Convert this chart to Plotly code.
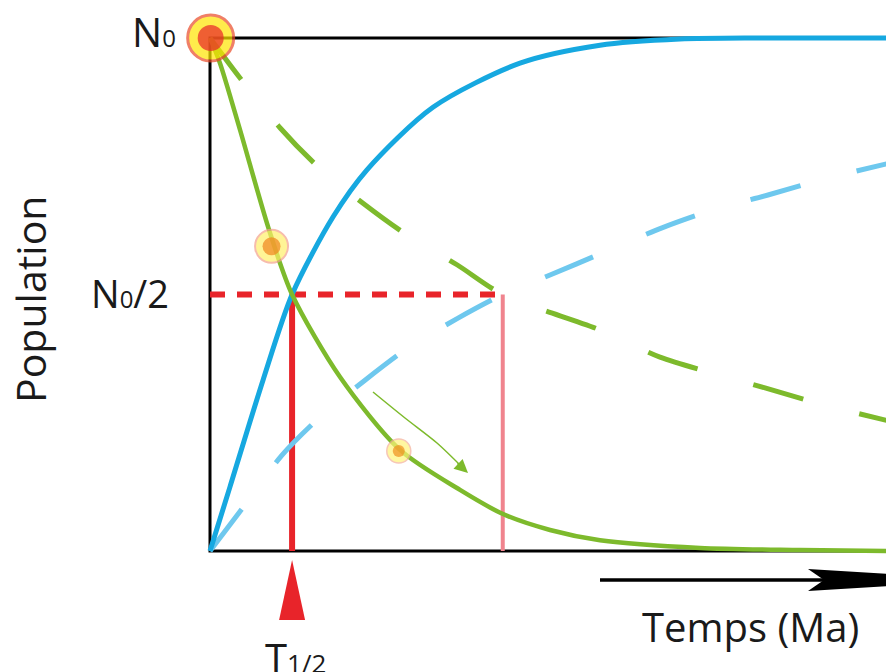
import plotly.graph_objects as go

# ---------------- data (time in Ma, population in % of N0) ----------------
T_HALF_SHORT = 1.2
T_HALF_LONG = 4.28

parent_fast_t = [0, 0.146, 0.439, 0.863, 1.2, 1.901, 2.778, 3.655, 4.284, 4.971, 5.702, 7.164, 8.626, 10]
parent_fast_n = [100, 95.1, 82.1, 62.6, 50, 33.9, 19.7, 11.9, 7.2, 4.1, 2.1, 0.6, 0.2, 0]

daughter_fast_t = [0, 0.292, 0.775, 1.2, 1.798, 2.295, 3.26, 4.532, 5.702, 6.871, 8.04, 10]
daughter_fast_n = [0, 12.5, 33.3, 50, 65.1, 74.3, 86.5, 95.1, 98.6, 99.8, 100, 100]

parent_slow_t = [0, 0.439, 1.023, 1.579, 2.237, 2.88, 3.611, 4.28, 5.702, 6.579, 7.339, 8.114, 8.889, 10]
parent_slow_n = [100, 92.2, 82.5, 74.9, 67.8, 61.6, 55.8, 50, 43.1, 37.8, 34.7, 31.8, 28.8, 25.1]

daughter_slow_t = [0, 0.512, 1.053, 1.608, 2.266, 2.895, 3.626, 4.28, 4.971, 5.702, 6.608, 7.354, 8.158, 8.918, 10]
daughter_slow_n = [0, 9.0, 18.7, 26.1, 33.3, 39.6, 45.4, 50, 53.8, 57.9, 63.0, 66.5, 69.4, 72.3, 75.8]

atom_t = [0.01, 0.9, 2.76]
atom_n = [100, 59.4, 19.5]

# ---------------- styling ----------------
GREEN = "#7dba2c"
BLUE = "#16a8e0"
LBLUE = "#6ec8ee"
RED = "#e8242a"
PINK = "#f0848e"
FONT = "Open Sans"
OFF = 8  # page body margin in the browser

# pixel helpers for figure geometry (picture 210..894 px -> 0..10 Ma, 551..38 px -> 0..100 %)
PXX = 68.4
PXY = 5.13
def X(px):
    return (px - 210) / PXX
def Y(py):
    return (551 - py) / PXY

fig = go.Figure()

def line(xs, ys, color, width, dash="solid", shape="linear"):
    fig.add_trace(go.Scatter(x=xs, y=ys, mode="lines", hoverinfo="skip",
                             line=dict(color=color, width=width, dash=dash, shape=shape,
                                       smoothing=0.8 if shape == "spline" else None),
                             showlegend=False, cliponaxis=False))

# frame
line([10.2, 0, 0, 10.2], [100, 100, 0, 0], "black", 3)

# half-life markers
line([0, T_HALF_LONG], [50, 50], RED, 6, dash="15px,12px")
line([T_HALF_SHORT, T_HALF_SHORT], [0, 50], RED, 6)
line([T_HALF_LONG, T_HALF_LONG], [0, 50], PINK, 4)

# slow curves (dashed)
line(daughter_slow_t, daughter_slow_n, LBLUE, 5, dash="52px,58px", shape="spline")
line(parent_slow_t, parent_slow_n, GREEN, 5, dash="52px,58px", shape="spline")

# fast curves (solid)
line(daughter_fast_t, daughter_fast_n, BLUE, 5, shape="spline")
line(parent_fast_t, parent_fast_n, GREEN, 4.5, shape="spline")

# small curved arrow along decay
line([X(373), X(405), X(437), X(462)], [Y(392), Y(418), Y(443), Y(467)], GREEN, 1.5, shape="spline")
fig.add_annotation(x=X(468), y=Y(473), ax=X(456), ay=Y(462), xref="x", yref="y",
                   axref="x", ayref="y", showarrow=True, arrowhead=2, arrowsize=1.8,
                   arrowwidth=1.5, arrowcolor=GREEN, text="")

# atoms
outer_sizes = [46, 33, 24]
outer_fill = ["#ffe500", "#fff06a", "#fff47a"]
outer_line = ["#ea4a27", "#f4a08a", "#f4b09a"]
inner_sizes = [26, 18, 12]
inner_fill = ["#e8242a", "#f0851e", "#f0901e"]
fig.add_trace(go.Scatter(x=atom_t, y=atom_n, mode="markers", hoverinfo="skip", showlegend=False,
                         cliponaxis=False,
                         marker=dict(size=outer_sizes, color=outer_fill,
                                     line=dict(color=outer_line, width=[3, 2, 1.5]))))
fig.add_trace(go.Scatter(x=atom_t, y=atom_n, mode="markers", hoverinfo="skip", showlegend=False,
                         cliponaxis=False,
                         marker=dict(size=inner_sizes, color=inner_fill, line=dict(width=0))))

# red triangle pointing at T1/2
tri_w = 13 / PXX
fig.add_trace(go.Scatter(x=[T_HALF_SHORT - tri_w, T_HALF_SHORT, T_HALF_SHORT + tri_w, T_HALF_SHORT - tri_w],
                         y=[Y(620), Y(560), Y(620), Y(620)], mode="lines", fill="toself",
                         fillcolor=RED, line=dict(color=RED, width=0), hoverinfo="skip",
                         showlegend=False, cliponaxis=False))

# time arrow (shaft + long arrowhead running off the right edge)
line([X(600), X(824)], [Y(580), Y(580)], "black", 3.5)
fig.add_trace(go.Scatter(x=[X(808), X(824), X(808), X(985), X(808)],
                         y=[Y(569), Y(580), Y(591), Y(580), Y(569)], mode="lines", fill="toself",
                         fillcolor="black", line=dict(color="black", width=0), hoverinfo="skip",
                         showlegend=False, cliponaxis=False))

# texts
tf = dict(family=FONT, color="#1a1a1a")
fig.add_annotation(x=X(130), y=Y(31), xref="x", yref="y",
                   text="N<span style='font-size:24px'>0</span>", showarrow=False,
                   xanchor="left", yanchor="middle", font=dict(size=40, **tf))
fig.add_annotation(x=X(89), y=Y(293), xref="x", yref="y",
                   text="N<span style='font-size:24px'>0</span>/2", showarrow=False,
                   xanchor="left", yanchor="middle", font=dict(size=38, **tf))
fig.add_annotation(x=X(30), y=Y(300), xref="x", yref="y", text="Population", showarrow=False,
                   textangle=-90, xanchor="center", yanchor="middle", font=dict(size=41, **tf))
fig.add_annotation(x=X(750), y=Y(626), xref="x", yref="y", text="Temps (Ma)", showarrow=False,
                   xanchor="center", yanchor="middle", font=dict(size=40, **tf))
fig.add_annotation(x=X(263), y=Y(657), xref="x", yref="y",
                   text="T<span style='font-size:26px'>1/2</span>",
                   showarrow=False, xanchor="left", yanchor="middle", font=dict(size=40, **tf))

fig.update_layout(
    width=894 - OFF, height=672 - OFF,
    margin=dict(l=0, r=0, t=0, b=0),
    paper_bgcolor="white", plot_bgcolor="white",
    xaxis=dict(range=[X(OFF), X(894)], visible=False, fixedrange=True),
    yaxis=dict(range=[Y(672), Y(OFF)], visible=False, fixedrange=True),
    showlegend=False,
)

fig.write_html("out.html")
